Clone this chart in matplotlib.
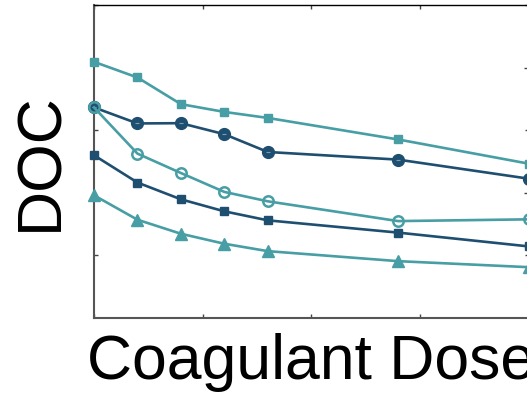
import matplotlib
matplotlib.use("Agg")
import matplotlib.pyplot as plt

dose = [0, 1, 2, 3, 4, 7, 10]
s_teal_sq = [2.546, 2.421, 2.208, 2.146, 2.098, 1.926, 1.733]
s_dark_circ = [2.182, 2.054, 2.056, 1.968, 1.826, 1.765, 1.613]
s_teal_open = [2.182, 1.813, 1.658, 1.507, 1.432, 1.274, 1.288]
s_dark_sq = [1.800, 1.582, 1.448, 1.352, 1.280, 1.182, 1.072]
s_teal_tri = [1.480, 1.285, 1.173, 1.093, 1.034, 0.954, 0.906]

x_ticks = [0, 2.5, 5, 7.5, 10]
y_major = [1, 2, 3]
y_minor = [1.5, 2.5]

teal = "#479ea4"
dark = "#1f4f70"

plt.rcParams['font.family'] = ['Liberation Sans', 'DejaVu Sans']

fig = plt.figure(figsize=(5.27, 3.98), dpi=100)
W, H = 527, 398
ax = fig.add_axes([94 / W, (H - 318) / H, (528.5 - 94) / W, 313 / H])

lw = 1.9
ax.plot(dose, s_teal_sq, color=teal, lw=lw, marker='s', ms=6.0, mec=teal, mfc=teal, clip_on=False, zorder=3)
ax.plot(dose, s_dark_circ, color=dark, lw=lw, marker='o', ms=8.5, mec=dark, mfc=dark, clip_on=False, zorder=3)
ax.plot(dose, s_dark_circ, ls='none', marker='_', ms=3, mew=0.8, mec='#7f9bb0', clip_on=False, zorder=3.1)
ax.plot(dose, s_teal_open, color=teal, lw=lw, marker='o', ms=7.5, mew=1.8, mec=teal, mfc='none', clip_on=False, zorder=3.2)
ax.plot(dose, s_dark_sq, color=dark, lw=lw, marker='s', ms=5.5, mec=dark, mfc=dark, clip_on=False, zorder=3)
ax.plot(dose, s_teal_tri, color=teal, lw=lw, marker='^', ms=8, mec=teal, mfc=teal, clip_on=False, zorder=3)

ax.set_xlim(0, 10)
ax.set_ylim(0.5, 3.0)
ax.set_xticks(x_ticks)
ax.set_yticks(y_major)
ax.set_yticks(y_minor, minor=True)
ax.set_xticklabels([])
ax.set_yticklabels([])
ax.tick_params(which='major', direction='in', left=True, right=True, top=True, bottom=True,
               length=3, width=1, color='#444444')
ax.tick_params(which='minor', direction='in', left=False, right=True, top=False, bottom=False,
               length=3.5, width=1, color='#444444')

for side in ['left', 'bottom']:
    ax.spines[side].set_color('#555555')
    ax.spines[side].set_linewidth(1.5)
ax.spines['top'].set_color('black')
ax.spines['top'].set_linewidth(1.0)
ax.spines['right'].set_color('black')

ylab = ax.set_ylabel("DOC", fontsize=45)
ylab.set_va('center')
ax.yaxis.set_label_coords(-(41 - 94) / -434.5 * -1, 0.5)
ax.yaxis.set_label_coords((41 - 94) / 434.5, 0.5)
xlab = ax.set_xlabel("Coagulant Dose", fontsize=45)
xlab.set_va('center')
ax.xaxis.set_label_coords(0.5, -(363 - 318) / 313)

fig.savefig("out.png", dpi=100)
